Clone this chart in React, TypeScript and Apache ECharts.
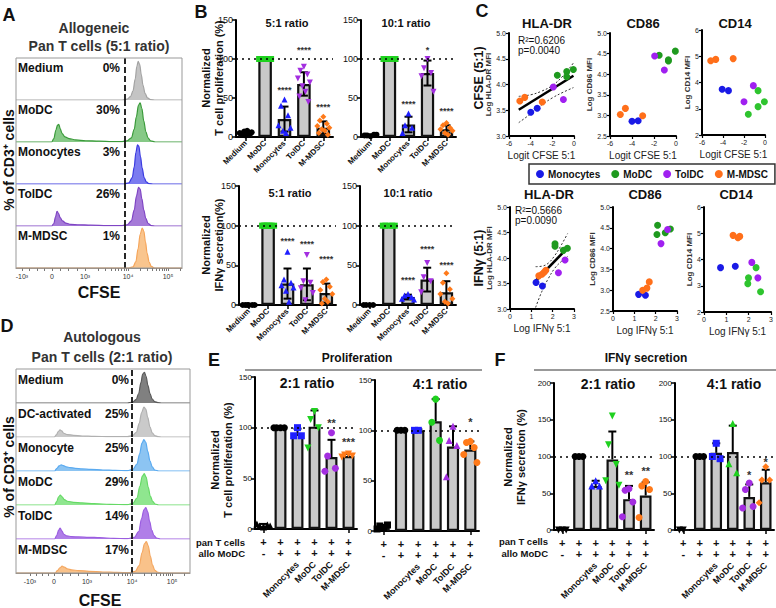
import React, { useEffect, useRef } from "react";
import * as echarts from "echarts";

const FONT = "'Liberation Sans', Arial, Helvetica, sans-serif";

/* ---------------- Panel A : allogeneic CFSE histograms ---------------- */
const aRowNames = ["Medium", "MoDC", "Monocytes", "TolDC", "M-MDSC"];
const aRowPercents = ["0%", "30%", "3%", "26%", "1%"];
const aHistMedium = [[0,0],[640,0],[670,2],[690,8],[705,22],[718,50],[728,80],[736,92],[745,85],[755,60],[765,35],[778,15],[792,5],[810,1],[840,0],[1000,0]];
const aHistMoDC = [[0,0],[215,0],[228,8],[240,28],[250,40],[258,42],[266,32],[278,20],[295,12],[320,8],[360,5],[420,3],[500,2],[580,1],[640,1],[670,3],[695,10],[712,30],[725,60],[738,88],[748,93],[758,80],[770,50],[782,25],[795,10],[810,3],[840,0],[1000,0]];
const aHistMono = [[0,0],[650,0],[680,3],[700,15],[712,40],[722,75],[732,93],[740,90],[750,65],[760,38],[772,15],[785,5],[800,1],[830,0],[1000,0]];
const aHistTolDC = [[0,0],[215,0],[228,6],[238,22],[247,35],[256,30],[266,20],[280,12],[300,7],[330,4],[380,3],[450,2],[550,1],[640,1],[670,3],[695,12],[712,38],[726,72],[738,92],[748,88],[758,65],[770,38],[782,18],[796,6],[815,1],[840,0],[1000,0]];
const aHistMDSC = [[0,0],[680,0],[705,3],[722,15],[735,45],[748,80],[760,95],[770,88],[780,62],[790,35],[802,14],[815,4],[835,0],[1000,0]];
const aTickValues = [36, 217, 416, 675, 916];
const aTickLabels = ["-10³", "0", "10³", "10⁴", "10⁵"];
const aGateValue = 657;

/* ---------------- Panel D : autologous CFSE histograms ---------------- */
const dRowNames = ["Medium", "DC-activated", "Monocyte", "MoDC", "TolDC", "M-MDSC"];
const dRowPercents = ["0%", "25%", "25%", "29%", "14%", "17%"];
const dHistMedium = [[0,0],[640,0],[670,3],[690,10],[705,28],[718,60],[728,85],[738,90],[748,78],[758,52],[770,28],[782,12],[797,4],[815,1],[840,0],[1000,0]];
const dHistDCact = [[0,0],[220,0],[232,6],[243,16],[253,21],[262,18],[275,11],[295,7],[330,5],[380,3],[450,2],[540,1],[640,1],[670,4],[692,14],[708,40],[722,72],[735,88],[746,82],[757,58],[770,30],[783,12],[798,4],[815,1],[840,0],[1000,0]];
const dHistMono = [[0,0],[222,0],[235,8],[248,15],[260,18],[272,16],[290,12],[310,10],[340,8],[380,6],[430,5],[500,3],[570,2],[640,1],[672,5],[695,20],[710,50],[724,82],[735,92],[746,84],[757,58],[770,30],[783,12],[798,3],[820,0],[1000,0]];
const dHistMoDC = [[0,0],[222,0],[234,10],[245,24],[255,29],[265,24],[278,16],[295,11],[330,8],[380,6],[450,4],[540,2],[640,1],[672,5],[695,20],[712,55],[726,85],[737,92],[748,82],[760,52],[772,26],[786,10],[800,3],[820,0],[1000,0]];
const dHistTolDC = [[0,0],[222,0],[234,10],[245,26],[254,32],[263,24],[275,14],[292,9],[320,7],[360,6],[420,5],[480,4],[560,2],[640,1],[680,5],[705,22],[722,60],[735,86],[746,92],[757,80],[768,52],[780,26],[793,10],[808,3],[830,0],[1000,0]];
const dHistMDSC = [[0,0],[225,0],[238,7],[252,15],[265,20],[278,17],[295,12],[320,9],[360,7],[420,5],[500,3],[580,2],[650,1],[685,5],[708,22],[725,60],[738,86],[749,92],[760,80],[772,50],[784,24],[798,8],[815,2],[835,0],[1000,0]];
const dTickValues = [80, 218, 408, 667, 897];
const dTickLabels = ["-10³", "0", "10³", "10⁴", "10⁵"];
const dGateValue = 665;

/* ---------------- Panel B : bar charts ---------------- */
const bCategories = ["Medium", "MoDC", "Monocytes", "TolDC", "M-MDSC"];
const bProl5Means = [5, 100, 23, 68, 12];
const bProl5Errs = [2, 0, 16, 15, 8];
const bProl5Points = [[2, 3, 4, 5, 6, 7, 8], [100, 100, 100, 100, 100, 100, 100, 100, 100], [48, 40, 28, 15, 12, 8, 5], [90, 85, 80, 75, 70, 65, 58, 52, 45], [26, 21, 17, 14, 12, 10, 8, 5, 3]];
const bProl5Stars = ["", "", "****", "****", "****"];
const bProl5StarY = [0, 0, 60, 111, 38];

const bProl10Means = [2, 100, 16, 82, 10];
const bProl10Errs = [1, 0, 10, 16, 5];
const bProl10Points = [[1, 2, 3, 2, 3], [100, 100, 100, 100, 100], [30, 15, 12, 5], [100, 88, 82, 78, 58], [18, 15, 12, 10, 8, 5, 3]];
const bProl10Stars = ["", "", "****", "*", "****"];
const bProl10StarY = [0, 0, 42, 112, 33];

const bIfn5Means = [0, 100, 27, 26, 15];
const bIfn5Errs = [0, 0, 19, 20, 12];
const bIfn5Points = [[0, 0, 0, 0, 0, 0], [100, 100, 100, 100, 100, 100, 100, 100], [67, 32, 28, 25, 22, 18, 4], [63, 30, 28, 21, 15, 6], [32, 29, 23, 19, 14, 8, 4, 2]];
const bIfn5Stars = ["", "", "****", "****", "****"];
const bIfn5StarY = [0, 0, 81, 77, 58];

const bIfn10Means = [0, 100, 10, 32, 16];
const bIfn10Errs = [0, 0, 3, 15, 14];
const bIfn10Points = [[0, 0, 0, 0], [100, 100, 100, 100, 100], [14, 12, 10, 8, 7], [53, 35, 30, 16], [40, 28, 20, 14, 8, 4, 2]];
const bIfn10Stars = ["", "", "****", "****", "****"];
const bIfn10StarY = [0, 0, 32, 71, 51];

/* ---------------- Panel C : correlations ---------------- */
const cGroupNames = ["Monocytes", "MoDC", "TolDC", "M-MDSC"];
const cCfseHla = [[[-3.99, 3.46], [-3.4, 3.54]], [[-1.54, 4.18], [-0.67, 4.25], [-0.67, 4.15], [-0.06, 4.29]], [[-1.91, 3.95], [-0.98, 3.71]], [[-5.0, 3.68], [-4.55, 3.75], [-2.93, 3.66]]];
const cCfseHlaFit = [[-5.1, 3.51], [-0.05, 4.17]];
const cCfseHlaCiUp = [[-5.1, 3.77], [-4, 3.8], [-3, 3.87], [-2, 3.98], [-1, 4.17], [-0.05, 4.42]];
const cCfseHlaCiLo = [[-5.1, 3.26], [-4, 3.43], [-3, 3.6], [-2, 3.74], [-1, 3.85], [-0.05, 3.94]];
const cCfseCd86 = [[[-4.0, 2.86], [-3.44, 2.87]], [[-1.53, 4.46], [-0.69, 4.35], [-0.69, 4.32], [-0.06, 4.56]], [[-1.94, 4.44], [-1.06, 4.1]], [[-5.06, 3.02], [-4.6, 3.17], [-3.03, 2.99]]];
const cCfseCd14 = [[[-4.08, 3.74], [-3.48, 3.69]], [[-0.66, 3.69], [-0.66, 3.08], [-1.59, 2.79], [-0.06, 3.27]], [[-2.0, 3.27], [-1.11, 3.88]], [[-5.17, 4.83], [-4.69, 4.88], [-3.03, 4.91]]];
const cIfnHla = [[[1.22, 3.52], [1.52, 3.45]], [[2.11, 4.28], [2.11, 4.23], [2.5, 4.15], [2.69, 4.19]], [[2.58, 3.96], [2.27, 3.71]], [[1.35, 3.65], [1.5, 3.68], [1.6, 3.72], [1.68, 3.76]]];
const cIfnHlaFit = [[1.2, 3.55], [2.7, 4.2]];
const cIfnHlaCiUp = [[1.2, 3.83], [1.5, 3.84], [1.8, 3.9], [2.1, 4.05], [2.4, 4.25], [2.7, 4.48]];
const cIfnHlaCiLo = [[1.2, 3.03], [1.5, 3.35], [1.8, 3.6], [2.1, 3.8], [2.4, 3.93], [2.7, 4.03]];
const cIfnCd86 = [[[1.2, 2.9], [1.52, 2.88]], [[2.09, 4.56], [2.06, 4.34], [2.45, 4.38], [2.69, 4.47]], [[2.56, 4.46], [2.25, 4.12]], [[1.39, 3.0], [1.59, 3.05], [1.7, 3.2]]];
const cIfnCd14 = [[[0.74, 3.69], [1.4, 3.74]], [[2.33, 3.69], [1.99, 3.3], [1.96, 3.08], [2.53, 2.77]], [[2.14, 3.89], [2.41, 3.3]], [[1.3, 4.92], [1.52, 4.83], [1.6, 4.88]]];
const cCfseStats = ["R²=0.6206", "p=0.0040"];
const cIfnStats = ["R²=0.5666", "p=0.0090"];

/* ---------------- Panels E / F ---------------- */
const efCategories = ["Medium", "allo MoDC", "Monocytes", "MoDC", "TolDC", "M-MDSC"];
const efPanTRow = ["+", "+", "+", "+", "+", "+"];
const efAlloRow = ["-", "+", "+", "+", "+", "+"];
const efRotNames = ["", "", "Monocytes", "MoDC", "TolDC", "M-MDSC"];

const eProl2Means = [3, 100, 94, 101, 71, 72];
const eProl2Errs = [2, 0, 5, 16, 17, 2];
const eProl2Points = [[2, 3, 4, 5, 3], [100, 100, 100, 100], [100, 92, 92], [116, 108, 100, 80], [95, 72, 60, 57], [74, 73, 72, 71]];
const eProl2Stars = ["", "", "", "", "**", "***"];
const eProl2StarY = [0, 0, 0, 0, 105, 86];

const eProl4Means = [4, 100, 100, 109, 84, 81];
const eProl4Errs = [2, 0, 1, 22, 20, 8];
const eProl4Points = [[3, 5, 6, 2], [100, 100, 100], [100, 100], [131, 108, 90], [104, 90, 85, 54], [89, 88, 83, 76, 68]];
const eProl4Stars = ["", "", "", "", "", "*"];
const eProl4StarY = [0, 0, 0, 0, 0, 108];

const fIfn2Means = [0, 100, 60, 96, 42, 47];
const fIfn2Errs = [0, 0, 7, 38, 18, 18];
const fIfn2Points = [[0, 0, 0], [100, 100, 100], [67, 60, 60], [155, 116, 89, 67, 61], [56, 54, 38, 18], [66, 60, 55, 17]];
const fIfn2Stars = ["", "", "", "", "**", "**"];
const fIfn2StarY = [0, 0, 0, 0, 75, 80];

const fIfn4Means = [0, 100, 105, 106, 45, 65];
const fIfn4Errs = [0, 0, 13, 36, 17, 17];
const fIfn4Points = [[0, 0], [100, 100, 100], [118, 100, 97], [145, 90, 78], [64, 55, 32, 30], [86, 68, 68, 37]];
const fIfn4Stars = ["", "", "", "", "*", "*"];
const fIfn4StarY = [0, 0, 0, 0, 75, 93];

/* ---------------- styles ---------------- */
type Mark = { c: string; s: string; r?: number };
const JIT = [0, -3.5, 3.5, -6, 6, -1.5, 1.5, -4.5, 4.5];
const BLUE = "#1f1fff";
const GREEN = "#1fd11f";
const PURPLE = "#a32ee0";
const ORANGE = "#ff7a1a";

function buildOption() {
  const grid: any[] = [];
  const xAxis: any[] = [];
  const yAxis: any[] = [];
  const series: any[] = [];
  const graphic: any[] = [];
  let uid = 0;

  const text = (x: number, y: number, t: string, size: number, o: any = {}) => {
    const align = o.align || "center";
    graphic.push({
      type: "text", x, y, rotation: o.rot || 0, z: 100,
      style: {
        text: t, fontFamily: FONT, fontSize: size, fontWeight: o.weight || "bold",
        fill: o.color || "#111", align, verticalAlign: "middle", textAlign: align, textVerticalAlign: "middle",
      },
    });
  };
  const gline = (x1: number, y1: number, x2: number, y2: number, color: string, w: number) => {
    graphic.push({ type: "line", z: 99, shape: { x1, y1, x2, y2 }, style: { stroke: color, lineWidth: w } });
  };

  /* ---- histogram rows ---- */
  const minorTicks = (t: number[]) => {
    const out: number[] = [];
    const dec = (a: number, b: number) => [2, 3, 4, 5, 6, 7, 8, 9].forEach((k) => out.push(a + (b - a) * Math.log10(k)));
    dec(t[2], t[3]);
    dec(t[3], t[4]);
    [2, 3].forEach((k) => { const v = t[4] + (t[4] - t[3]) * Math.log10(k); if (v < 1000) out.push(v); });
    [0.25, 0.5, 0.75].forEach((f) => { out.push(t[0] + (t[1] - t[0]) * f); out.push(t[1] + (t[2] - t[1]) * f); });
    return out;
  };
  const histRow = (left: number, top: number, width: number, height: number, data: number[][], line: string, fill: string,
    gate: number, last: boolean, ticks: number[], labels: string[]) => {
    const gi = grid.length;
    grid.push({ left, top, width, height });
    const xi = xAxis.length;
    xAxis.push({
      type: "value", gridIndex: gi, min: 0, max: 1000,
      axisLine: { show: last, lineStyle: { color: "#888", width: 1 } },
      axisTick: { show: last, customValues: ticks.concat(minorTicks(ticks)), length: 3, lineStyle: { color: "#555", width: 0.8 } },
      axisLabel: {
        show: last, customValues: ticks, fontSize: 7, color: "#333", margin: 5, fontFamily: FONT,
        formatter: (v: number) => { const k = ticks.indexOf(v); return k >= 0 ? labels[k] : ""; },
      },
      splitLine: { show: false },
    });
    const yi = yAxis.length;
    yAxis.push({ type: "value", gridIndex: gi, min: 0, max: 100, show: false });
    series.push({
      type: "line", name: "hist" + uid++, xAxisIndex: xi, yAxisIndex: yi, data, smooth: 0.35, smoothMonotone: "x",
      symbol: "none", lineStyle: { color: line, width: 1.2 }, areaStyle: { color: fill, opacity: 1 }, silent: true,
      markLine: {
        silent: true, symbol: ["none", "none"], label: { show: false }, animation: false,
        lineStyle: { type: [6, 3], color: "#111", width: 1.8 }, data: [{ xAxis: gate }],
      },
    });
  };

  // Panel A
  const aData = [aHistMedium, aHistMoDC, aHistMono, aHistTolDC, aHistMDSC];
  const aStyles = [
    { line: "#a3a3a3", fill: "#c4c4c4" }, { line: "#3a9a3a", fill: "#86c986" }, { line: "#3b3be0", fill: "#7b7bf0" },
    { line: "#7f45c4", fill: "#a57ad8" }, { line: "#f5a55a", fill: "#f9c58e" },
  ];
  const aTop = 58, aRowH = 42;
  aData.forEach((d, i) => histRow(16, aTop + i * aRowH, 166, aRowH, d, aStyles[i].line, aStyles[i].fill, aGateValue, i === aData.length - 1, aTickValues, aTickLabels));
  graphic.push({ type: "rect", z: 98, shape: { x: 16, y: aTop, width: 166, height: aRowH * 5 }, style: { fill: "none", stroke: "#999", lineWidth: 1 } });
  aRowNames.forEach((n, i) => {
    text(18, aTop + i * aRowH + 10, n, 12, { align: "left" });
    text(120, aTop + i * aRowH + 10, aRowPercents[i], 12, { align: "right" });
  });
  text(9, 15, "A", 18);
  text(94, 28, "Allogeneic", 14, { color: "#333" });
  text(99, 46, "Pan T cells (5:1 ratio)", 14, { color: "#333" });
  text(9, 160, "% of CD3⁺ cells", 14, { rot: Math.PI / 2 });
  text(99, 292, "CFSE", 16);

  // Panel D
  const dData = [dHistMedium, dHistDCact, dHistMono, dHistMoDC, dHistTolDC, dHistMDSC];
  const dStyles = [
    { line: "#5a5a5a", fill: "#808080" }, { line: "#b0b0b0", fill: "#cacaca" }, { line: "#5aaaf0", fill: "#8cc4f2" },
    { line: "#66d966", fill: "#8fe68f" }, { line: "#9b5de0", fill: "#b07ee8" }, { line: "#f4a862", fill: "#f9c28a" },
  ];
  const dTop = 369, dRowH = 34;
  dData.forEach((d, i) => histRow(16, dTop + i * dRowH, 174, dRowH, d, dStyles[i].line, dStyles[i].fill, dGateValue, i === dData.length - 1, dTickValues, dTickLabels));
  graphic.push({ type: "rect", z: 98, shape: { x: 16, y: dTop, width: 174, height: dRowH * 6 }, style: { fill: "none", stroke: "#999", lineWidth: 1 } });
  dRowNames.forEach((n, i) => {
    text(18, dTop + i * dRowH + 11, n, 12, { align: "left" });
    text(129, dTop + i * dRowH + 11, dRowPercents[i], 12, { align: "right" });
  });
  text(7, 326, "D", 18);
  text(102, 337, "Autologous", 14, { color: "#333" });
  text(102, 357, "Pan T cells (2:1 ratio)", 14, { color: "#333" });
  text(9, 467, "% of CD3⁺ cells", 14, { rot: Math.PI / 2 });
  text(100, 600, "CFSE", 16);

  /* ---- bar charts ---- */
  const barChart = (o: any) => {
    const gi = grid.length;
    grid.push({ left: o.left, top: o.top, width: o.width, height: o.height });
    const xi = xAxis.length;
    xAxis.push({
      type: "category", gridIndex: gi, data: o.cats,
      axisLine: { lineStyle: { color: "#000", width: 2 } },
      axisTick: { show: true, alignWithLabel: true, length: 4, lineStyle: { color: "#000", width: 1.5 } },
      axisLabel: o.ef ? { show: false } : { interval: 0, rotate: 45, fontSize: 8, fontWeight: "bold", color: "#111", margin: 5, fontFamily: FONT },
    });
    if (o.ef) {
      const extra = (row: string[], offset: number, lab: any) => xAxis.push({
        type: "category", gridIndex: gi, position: "bottom", offset, data: o.cats.map((_: string, i: number) => "k" + i),
        axisLine: { show: false }, axisTick: { show: false },
        axisLabel: { interval: 0, color: "#111", fontFamily: FONT, fontWeight: "bold", formatter: (_v: string, i: number) => row[i], ...lab },
      });
      extra(efPanTRow, 8, { fontSize: 11, lineHeight: 9, margin: 0 });
      extra(efAlloRow, 19, { fontSize: 11, lineHeight: 9, margin: 0 });
      extra(efRotNames, 30, { fontSize: 9, margin: 4, rotate: 45 });
    }
    const yi = yAxis.length;
    yAxis.push({
      type: "value", gridIndex: gi, min: 0, max: o.max, interval: 50,
      axisLine: { show: true, lineStyle: { color: "#000", width: 2 } },
      axisTick: { show: true, length: 4, lineStyle: { color: "#000", width: 1.5 } },
      axisLabel: { fontSize: o.yLabelSize, color: "#111", margin: 3, fontFamily: FONT },
      splitLine: { show: false },
    });
    series.push({
      type: "bar", name: "bar" + uid++, xAxisIndex: xi, yAxisIndex: yi, barWidth: "70%", z: 2, silent: true,
      data: o.means.map((m: number, i: number) => (i === 0 ? { value: m, itemStyle: { color: "#111" } } : m)),
      itemStyle: { color: "#c9c9c9", borderColor: "#111", borderWidth: 2.2 },
      markLine: {
        silent: true, symbol: ["none", "none"], label: { show: false },
        lineStyle: { type: [2, 4], color: "#000", width: 1.5 }, data: [{ yAxis: 100 }],
      },
    });
    series.push({
      type: "custom", name: "err" + uid++, xAxisIndex: xi, yAxisIndex: yi, z: 3, silent: true,
      data: o.means.map((m: number, i: number) => [i, m, o.errs[i]]),
      renderItem: (_p: any, api: any) => {
        const i = api.value(0), m = api.value(1), e = api.value(2);
        if (!e) return null;
        const t = api.coord([i, m + e]);
        const b = api.coord([i, o.lower ? m - e : m]);
        const w = o.cap;
        const st = { stroke: "#000", lineWidth: 2 };
        const kids: any[] = [
          { type: "line", shape: { x1: t[0], y1: t[1], x2: b[0], y2: b[1] }, style: st },
          { type: "line", shape: { x1: t[0] - w, y1: t[1], x2: t[0] + w, y2: t[1] }, style: st },
        ];
        if (o.lower) kids.push({ type: "line", shape: { x1: b[0] - w, y1: b[1], x2: b[0] + w, y2: b[1] }, style: st });
        return { type: "group", children: kids };
      },
    });
    o.points.forEach((vals: number[], ci: number) => {
      const mk: Mark = o.marks[ci];
      series.push({
        type: "scatter", name: "pts" + uid++, xAxisIndex: xi, yAxisIndex: yi, z: 4, silent: true,
        symbol: mk.s, symbolRotate: mk.r || 0, symbolSize: o.symbolSize,
        itemStyle: { color: mk.c, opacity: 1 },
        data: vals.map((v, k) => ({ value: [ci, v], symbolOffset: [JIT[k % JIT.length] * o.spread, 0] })),
      });
    });
    series.push({
      type: "custom", name: "stars" + uid++, xAxisIndex: xi, yAxisIndex: yi, z: 5, silent: true,
      data: o.starY.map((y: number, i: number) => [i, y]),
      renderItem: (p: any, api: any) => {
        const s = o.stars[p.dataIndex];
        if (!s) return null;
        const c = api.coord([api.value(0), api.value(1)]);
        return {
          type: "text", x: c[0], y: c[1],
          style: { text: s, fontSize: o.starSize, fontFamily: FONT, fontWeight: "bold", fill: "#333", align: "center", verticalAlign: "middle", textAlign: "center", textVerticalAlign: "middle" },
        };
      },
    });
    if (o.title) text(o.titleX, o.titleY, o.title, o.titleSize);
  };

  const bMarks: Mark[] = [
    { c: "#000", s: "circle" }, { c: GREEN, s: "rect" }, { c: BLUE, s: "triangle" },
    { c: PURPLE, s: "triangle", r: 180 }, { c: ORANGE, s: "diamond" },
  ];
  const bCommon = { cats: bCategories, marks: bMarks, max: 150, lower: true, yLabelSize: 9, symbolSize: 6, starSize: 9, cap: 4, spread: 1, titleSize: 11 };
  barChart({ ...bCommon, left: 236, top: 20, width: 97, height: 117, means: bProl5Means, errs: bProl5Errs, points: bProl5Points, stars: bProl5Stars, starY: bProl5StarY, title: "5:1 ratio", titleX: 287, titleY: 23 });
  barChart({ ...bCommon, left: 361, top: 20, width: 95, height: 117, means: bProl10Means, errs: bProl10Errs, points: bProl10Points, stars: bProl10Stars, starY: bProl10StarY, title: "10:1 ratio", titleX: 406, titleY: 23 });
  barChart({ ...bCommon, left: 239, top: 186, width: 97, height: 119, means: bIfn5Means, errs: bIfn5Errs, points: bIfn5Points, stars: bIfn5Stars, starY: bIfn5StarY, title: "5:1 ratio", titleX: 290, titleY: 193 });
  barChart({ ...bCommon, left: 360, top: 186, width: 96, height: 119, means: bIfn10Means, errs: bIfn10Errs, points: bIfn10Points, stars: bIfn10Stars, starY: bIfn10StarY, title: "10:1 ratio", titleX: 408, titleY: 193 });
  text(201, 12, "B", 18);
  text(206, 78, "Normalized", 11, { rot: Math.PI / 2 });
  text(219, 78, "T cell proliferation (%)", 11, { rot: Math.PI / 2 });
  text(206, 245, "Normalized", 11, { rot: Math.PI / 2 });
  text(219, 245, "IFNγ secretion(%)", 11, { rot: Math.PI / 2 });

  // Panels E, F
  const efCommon = { cats: efCategories, ef: true, lower: false, yLabelSize: 8, symbolSize: 7, starSize: 11, cap: 4, spread: 1.1, titleSize: 14 };
  barChart({
    ...efCommon, left: 255, top: 377, width: 102, height: 152, max: 150, means: eProl2Means, errs: eProl2Errs, points: eProl2Points,
    stars: eProl2Stars, starY: eProl2StarY, title: "2:1 ratio", titleX: 307, titleY: 383,
    marks: [{ c: "#000", s: "triangle" }, { c: "#000", s: "circle" }, { c: BLUE, s: "rect" }, { c: GREEN, s: "triangle", r: 180 }, { c: PURPLE, s: "circle" }, { c: ORANGE, s: "triangle", r: 180 }],
  });
  barChart({
    ...efCommon, left: 375, top: 380, width: 104, height: 151, max: 150, means: eProl4Means, errs: eProl4Errs, points: eProl4Points,
    stars: eProl4Stars, starY: eProl4StarY, title: "4:1 ratio", titleX: 440, titleY: 384,
    marks: [{ c: "#000", s: "rect" }, { c: "#000", s: "circle" }, { c: BLUE, s: "rect" }, { c: GREEN, s: "circle" }, { c: PURPLE, s: "triangle" }, { c: ORANGE, s: "circle" }],
  });
  barChart({
    ...efCommon, left: 554, top: 383, width: 100, height: 147, max: 200, means: fIfn2Means, errs: fIfn2Errs, points: fIfn2Points,
    stars: fIfn2Stars, starY: fIfn2StarY, title: "2:1 ratio", titleX: 608, titleY: 384,
    marks: [{ c: "#000", s: "triangle", r: 180 }, { c: "#000", s: "circle" }, { c: BLUE, s: "triangle" }, { c: GREEN, s: "triangle", r: 180 }, { c: PURPLE, s: "circle" }, { c: ORANGE, s: "circle" }],
  });
  barChart({
    ...efCommon, left: 675, top: 383, width: 99, height: 147, max: 200, means: fIfn4Means, errs: fIfn4Errs, points: fIfn4Points,
    stars: fIfn4Stars, starY: fIfn4StarY, title: "4:1 ratio", titleX: 734, titleY: 384,
    marks: [{ c: "#000", s: "triangle", r: 180 }, { c: "#000", s: "circle" }, { c: BLUE, s: "rect" }, { c: GREEN, s: "triangle" }, { c: PURPLE, s: "circle" }, { c: ORANGE, s: "diamond" }],
  });
  text(214, 360, "E", 18);
  text(357, 358, "Proliferation", 12);
  gline(245, 370, 482, 370, "#999", 2);
  text(215, 460, "Normalized", 11, { rot: Math.PI / 2 });
  text(228, 460, "T cell proliferation (%)", 11, { rot: Math.PI / 2 });
  text(245, 542, "pan T cells", 9.5, { align: "right" });
  text(245, 553, "allo MoDC", 9.5, { align: "right" });
  text(500, 360, "F", 18);
  text(646, 358, "IFNγ secretion", 12);
  gline(534, 370, 776, 370, "#999", 2);
  text(508, 457, "Normalized", 11, { rot: Math.PI / 2 });
  text(521, 457, "IFNγ secretion (%)", 11, { rot: Math.PI / 2 });
  text(548, 541, "pan T cells", 9.5, { align: "right" });
  text(548, 553, "allo MoDC", 9.5, { align: "right" });

  /* ---- scatter plots (panel C) ---- */
  const cColors = ["#1a1ae6", "#1f9a1f", "#a020f0", "#ff6f1a"];
  const scatterPlot = (o: any) => {
    const gi = grid.length;
    grid.push({ left: o.left, top: o.top, width: o.width, height: o.height });
    const xi = xAxis.length;
    xAxis.push({
      type: "value", gridIndex: gi, min: o.xmin, max: o.xmax, interval: o.xint,
      axisLine: { onZero: false, lineStyle: { color: "#000", width: 2 } },
      axisTick: { show: true, length: 3, lineStyle: { color: "#000", width: 1.2 } },
      axisLabel: { fontSize: 7, color: "#222", margin: 4, fontFamily: FONT },
      splitLine: { show: false },
      name: o.xName, nameLocation: "middle", nameGap: 14, nameTextStyle: { fontSize: 10, color: "#222", fontFamily: FONT },
    });
    const yi = yAxis.length;
    yAxis.push({
      type: "value", gridIndex: gi, min: o.ymin, max: o.ymax, interval: o.yint,
      axisLine: { show: true, onZero: false, lineStyle: { color: "#000", width: 2 } },
      axisTick: { show: true, length: 3, lineStyle: { color: "#000", width: 1.2 } },
      axisLabel: { fontSize: 7, color: "#222", margin: 3, fontFamily: FONT, formatter: (v: number) => (o.ydec ? v.toFixed(1) : String(v)) },
      splitLine: { show: false },
      name: o.yName, nameLocation: "middle", nameGap: o.yGap, nameRotate: 90, nameTextStyle: { fontSize: 8, fontWeight: "bold", color: "#333", fontFamily: FONT },
    });
    if (o.fit) {
      [o.ciUp, o.ciLo].forEach((ci: number[][]) => series.push({
        type: "line", name: "ci" + uid++, xAxisIndex: xi, yAxisIndex: yi, data: ci, smooth: 0.4, symbol: "none", silent: true, z: 2,
        lineStyle: { color: "#333", width: 1, type: [2, 2] },
      }));
      series.push({
        type: "line", name: "fit" + uid++, xAxisIndex: xi, yAxisIndex: yi, data: o.fit, symbol: "none", silent: true, z: 3,
        lineStyle: { color: "#000", width: 2.6 },
      });
    }
    o.groups.forEach((pts: number[][], g: number) => series.push({
      type: "scatter", name: cGroupNames[g], xAxisIndex: xi, yAxisIndex: yi, data: pts, symbolSize: 7, z: 4, silent: true,
      itemStyle: { color: g === 1 && o.lightGreen ? "#2ec42e" : cColors[g], opacity: 1 },
    }));
    text(o.titleX, o.titleY, o.title, 13);
  };
  const cfseX = { xmin: -6, xmax: 0, xint: 2, xName: "Logit CFSE 5:1" };
  const ifnX = { xmin: 0, xmax: 3, xint: 1, xName: "Log IFNγ 5:1" };
  scatterPlot({ ...cfseX, left: 509, top: 33, width: 65, height: 103, ymin: 3, ymax: 5, yint: 0.5, ydec: true, yName: "Log HLA-DR MFI", yGap: 15, groups: cCfseHla, fit: cCfseHlaFit, ciUp: cCfseHlaCiUp, ciLo: cCfseHlaCiLo, title: "HLA-DR", titleX: 547, titleY: 23 });
  scatterPlot({ ...cfseX, left: 610, top: 33, width: 66, height: 103, ymin: 2.5, ymax: 5, yint: 0.5, ydec: true, yName: "Log CD86 MFI", yGap: 15, groups: cCfseCd86, title: "CD86", titleX: 643, titleY: 23 });
  scatterPlot({ ...cfseX, left: 702, top: 30, width: 63, height: 105, ymin: 2, ymax: 6, yint: 1, ydec: false, yName: "Log CD14 MFI", yGap: 10, groups: cCfseCd14, lightGreen: true, title: "CD14", titleX: 735, titleY: 23 });
  scatterPlot({ ...ifnX, left: 510, top: 207, width: 64, height: 102, ymin: 3, ymax: 5, yint: 0.5, ydec: true, yName: "Log HLA-DR MFI", yGap: 15, groups: cIfnHla, fit: cIfnHlaFit, ciUp: cIfnHlaCiUp, ciLo: cIfnHlaCiLo, title: "HLA-DR", titleX: 549, titleY: 194 });
  scatterPlot({ ...ifnX, left: 613, top: 207, width: 64, height: 104, ymin: 2.5, ymax: 5, yint: 0.5, ydec: true, yName: "Log CD86 MFI", yGap: 15, groups: cIfnCd86, title: "CD86", titleX: 645, titleY: 194 });
  scatterPlot({ ...ifnX, left: 704, top: 207, width: 68, height: 105, ymin: 2, ymax: 6, yint: 1, ydec: false, yName: "Log CD14 MFI", yGap: 10, groups: cIfnCd14, lightGreen: true, title: "CD14", titleX: 736, titleY: 194 });
  text(482, 11, "C", 18);
  text(479, 78, "CFSE (5:1)", 12.5, { rot: Math.PI / 2 });
  text(479, 258, "IFNγ (5:1)", 12.5, { rot: Math.PI / 2 });
  text(518, 40, cCfseStats[0], 10, { align: "left", weight: "normal" });
  text(518, 50, cCfseStats[1], 10, { align: "left", weight: "normal" });
  text(515, 210, cIfnStats[0], 10, { align: "left", weight: "normal" });
  text(515, 220, cIfnStats[1], 10, { align: "left", weight: "normal" });

  return {
    animation: false,
    backgroundColor: "#fff",
    textStyle: { fontFamily: FONT },
    legend: {
      left: 529, top: 164, orient: "horizontal", selectedMode: false, icon: "circle", itemWidth: 8, itemHeight: 8, itemGap: 11,
      padding: [5, 7], borderColor: "#333", borderWidth: 1.5,
      textStyle: { fontSize: 10, fontWeight: "bold", color: "#111", fontFamily: FONT, padding: [0, 0, 0, -1] },
      data: cGroupNames,
    },
    grid, xAxis, yAxis, series,
    graphic: { elements: graphic },
  };
}

export default function App() {
  const ref = useRef<HTMLDivElement>(null);
  useEffect(() => {
    if (!ref.current) return;
    const chart = echarts.init(ref.current, undefined, { renderer: "svg" });
    chart.setOption(buildOption() as any);
    return () => chart.dispose();
  }, []);
  return <div ref={ref} style={{ position: "absolute", left: 0, top: 0, width: 776, height: 608, background: "#fff" }} />;
}
